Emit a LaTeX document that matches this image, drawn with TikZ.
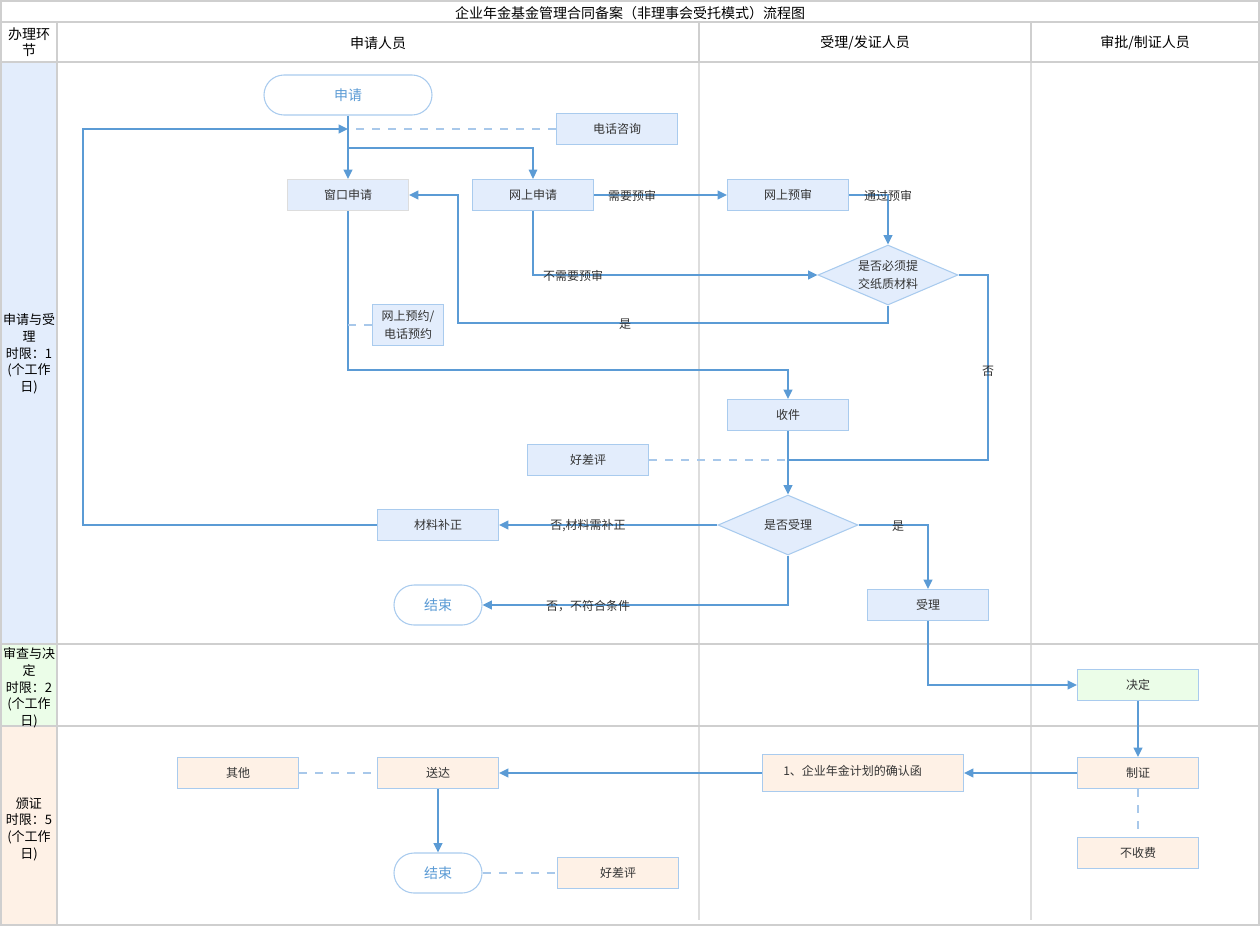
\documentclass[tikz,border=0pt]{standalone}
\usepackage{fontspec}
\setmainfont{Noto Sans CJK SC}
\usetikzlibrary{arrows.meta,shapes.geometric}
\definecolor{lineblue}{HTML}{5B9BD5}
\definecolor{dashblue}{HTML}{A8C8EA}
\definecolor{boxblue}{HTML}{E3EDFC}
\definecolor{boxborder}{HTML}{A9CBEE}
\definecolor{boxgreen}{HTML}{EBFDE8}
\definecolor{boxorange}{HTML}{FEF1E6}
\definecolor{gridgray}{HTML}{CFCFCF}
\definecolor{lanegray}{HTML}{DDDDDD}
\definecolor{txt}{HTML}{333333}
\tikzset{
  grid/.style={draw=gridgray,line width=1.5pt},
  lane/.style={draw=lanegray,line width=1.5pt},
  proc/.style={rectangle,draw=boxborder,line width=0.8pt,fill=boxblue,minimum width=90.75pt,minimum height=23.25pt,inner sep=0pt,font=\fontsize{9}{11}\selectfont,text=txt,align=center},
  procg/.style={proc,fill=boxgreen},
  proco/.style={proc,fill=boxorange},
  term/.style={rectangle,rounded corners=15pt,draw=boxborder,line width=0.8pt,fill=white,minimum height=30pt,inner sep=0pt,font=\fontsize{10.5}{12}\selectfont,text=lineblue},
  dec/.style={diamond,draw=boxborder,line width=0.8pt,fill=boxblue,aspect=2.33,minimum width=105pt,minimum height=45pt,inner sep=0pt,font=\fontsize{9}{13}\selectfont,text=txt,align=center},
  flow/.style={draw=lineblue,line width=1.4pt,-{Triangle[length=7pt,width=6.5pt]}},
  flowline/.style={draw=lineblue,line width=1.4pt},
  thin/.style={draw=lineblue,line width=0.8pt},
  dashl/.style={draw=dashblue,line width=1.4pt,dash pattern=on 6pt off 6pt},
  lbl/.style={font=\fontsize{9}{11}\selectfont,text=txt,inner sep=0pt},
  hdr/.style={font=\fontsize{10.5}{12}\selectfont,text=black,inner sep=0pt,align=center},
  side/.style={font=\fontsize{9.75}{12.5}\selectfont,text=black,inner sep=0pt,align=center}
}
\begin{document}
\begin{tikzpicture}[x=0.75pt,y=-0.75pt]
\useasboundingbox (0,0) rectangle (1260,926);
% side cell backgrounds
\fill[boxblue] (1,62) rectangle (57,644);
\fill[boxgreen] (1,644) rectangle (57,726);
\fill[boxorange] (1,726) rectangle (57,925);
% lane dividers
\draw[lane] (699,22) -- (699,920);
\draw[lane] (1031,22) -- (1031,920);
% grid
\draw[grid] (1,1) rectangle (1259,925);
\draw[grid] (1,22) -- (1259,22);
\draw[grid] (1,62) -- (1259,62);
\draw[grid] (1,644) -- (1259,644);
\draw[grid] (1,726) -- (1259,726);
\draw[grid] (57,22) -- (57,925);
\draw[grid] (699,22) -- (699,62);
\draw[grid] (1031,22) -- (1031,62);
% titles
\node[hdr] (title) at (630,13) {企业年金基金管理合同备案（非理事会受托模式）流程图};
\node[hdr] (h0) at (29,42) {办理环\\节};
\node[hdr] (h1) at (378,43) {申请人员};
\node[hdr] (h2) at (865,43) {受理/发证人员};
\node[hdr] (h3) at (1145,43) {审批/制证人员};
\node[side] (s1) at (29,354) {申请与受\\理\\时限：1\\(个工作\\日)};
\node[side] (s2) at (29,688) {审查与决\\定\\时限：2\\(个工作\\日)};
\node[side] (s3) at (29,829) {颁证\\时限：5\\(个工作\\日)};
% nodes
\node[term,minimum width=126pt] (start) at (348,95) {申请};
\node[proc] (phone) at (617,129) {电话咨询};
\node[proc,draw=lanegray] (window) at (348,195) {窗口申请};
\node[proc] (online) at (533,195) {网上申请};
\node[proc] (precheck) at (788,195) {网上预审};
\node[dec] (paper) at (888,275) {是否必须提\\交纸质材料};
\node[proc,minimum width=53.25pt,minimum height=30.75pt,font=\fontsize{9}{13}\selectfont] (appt) at (408,325) {网上预约/\\电话预约};
\node[proc] (receive) at (788,415) {收件};
\node[proc] (eval1) at (588,460) {好差评};
\node[dec,font=\fontsize{9}{11}\selectfont] (accept) at (788,525) {是否受理};
\node[proc] (supp) at (438,525) {材料补正};
\node[term,minimum width=66pt] (end1) at (438,605) {结束};
\node[proc] (acc) at (928,605) {受理};
\node[procg] (decide) at (1138,685) {决定};
\node[proco] (cert) at (1138,773) {制证};
\node[proco] (nofee) at (1138,853) {不收费};
\node[proco,minimum width=150.75pt,minimum height=27.75pt] (letter) at (863,773) {};
\node[lbl,anchor=west] (lettertxt) at (783,771) {1、企业年金计划的确认函};
\node[proco] (deliver) at (438,773) {送达};
\node[proco] (other) at (238,773) {其他};
\node[term,minimum width=66pt] (end2) at (438,873) {结束};
\node[proco] (eval2) at (618,873) {好差评};
% helper coordinates
\coordinate (j1) at (348,129);
\coordinate (j2) at (348,148);
\coordinate (j3) at (348,325);
\coordinate (j4) at (788,460);
% connectors
\draw[flow] (start) -- (window);
\draw[thin,-{Triangle[length=7pt,width=6.5pt]}] (j2) -| (online);
\draw[dashl] (phone) -- (j1);
\draw[flow] (supp.west) -- (83,525) -- (83,129) -- (j1);
\draw[flow] (online) -- (precheck);
\draw[flow] (precheck.east) -| (paper.north);
\draw[flow] (online.south) |- (paper.west);
\draw[flow] (paper.south) -- (888,323) -- (458,323) -- (458,195) -- (window.east);
\draw[flowline] (paper.east) -- (988,275) -- (988,460) -- (j4);
\draw[flow] (window.south) |- (788,370) -- (receive.north);
\draw[dashl] (appt.west) -- (j3);
\draw[flow] (receive) -- (accept);
\draw[dashl] (eval1.east) -- (j4);
\draw[flow] (accept.west) -- (supp.east);
\draw[flow] (accept.south) |- (end1.east);
\draw[flow] (accept.east) -| (acc.north);
\draw[flow] (acc.south) |- (decide.west);
\draw[flow] (decide) -- (cert);
\draw[flow] (cert.west) -- (letter.east);
\draw[flow] (letter.west) -- (deliver.east);
\draw[dashl] (cert.south) -- (nofee.north);
\draw[dashl] (other.east) -- (deliver.west);
\draw[flow] (deliver) -- (end2);
\draw[dashl] (end2.east) -- (eval2.west);
% edge labels
\node[lbl] (l1) at (632,196) {需要预审};
\node[lbl] (l2) at (888,196) {通过预审};
\node[lbl] (l3) at (573,276) {不需要预审};
\node[lbl] (l4) at (625,324) {是};
\node[lbl] (l5) at (988,371) {否};
\node[lbl] (l6) at (588,526) {否,材料需补正};
\node[lbl] (l7) at (898,526) {是};
\node[lbl] (l8) at (588,606) {否，不符合条件};
\end{tikzpicture}
\end{document}
